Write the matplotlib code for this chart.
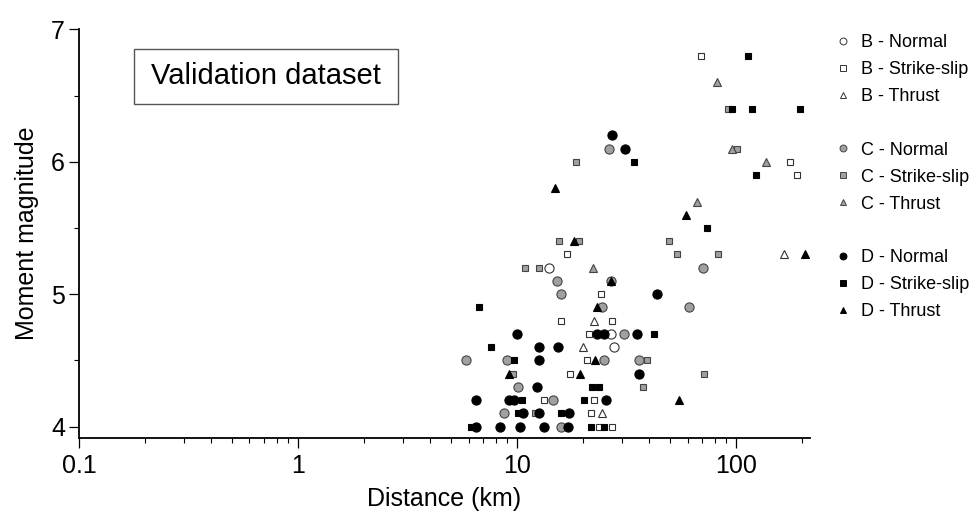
# -*- coding: utf-8 -*-
# Magnitud vs distancia - validation dataset (B, C, D)

import matplotlib
matplotlib.use('Agg')
import matplotlib.pyplot as plt
from matplotlib.lines import Line2D
from matplotlib.patches import Rectangle
from matplotlib.ticker import FixedLocator, NullFormatter

plt.rcParams['font.family'] = ['Liberation Sans', 'DejaVu Sans']

# Datos: distancia (km) y magnitud
b_normal_r = [13.9, 26.8, 27.7]
b_normal_m = [5.2, 4.7, 4.6]

b_ss_r = [24.0, 15.9, 27.1, 21.3, 20.8, 17.4, 13.3, 22.3, 21.7, 23.7, 27.1, 16.8, 69.1, 176.6, 188.8]
b_ss_m = [5.0, 4.8, 4.8, 4.7, 4.5, 4.4, 4.2, 4.2, 4.1, 4.0, 4.0, 5.3, 6.8, 6.0, 5.9]

b_thrust_r = [22.5, 19.9, 24.5, 164.7]
b_thrust_m = [4.8, 4.6, 4.1, 5.3]

c_normal_r = [15.8, 24.5, 30.7, 5.85, 8.97, 24.8, 36.0, 10.1, 14.5, 8.66, 15.8, 15.2, 26.8, 26.2, 70.8, 60.7]
c_normal_m = [5.0, 4.9, 4.7, 4.5, 4.5, 4.5, 4.5, 4.3, 4.2, 4.1, 4.0, 5.1, 5.1, 6.1, 5.2, 4.9]

c_ss_r = [18.5, 15.5, 19.1, 10.9, 12.6, 9.56, 12.0, 100.6, 49.2, 53.5, 82.9, 71.3, 37.7, 91.5, 39.1]
c_ss_m = [6.0, 5.4, 5.4, 5.2, 5.2, 4.4, 4.1, 6.1, 5.4, 5.3, 5.3, 4.4, 4.3, 6.4, 4.5]

c_thrust_r = [22.1, 82.0, 96.0, 136.4, 66.3]
c_thrust_m = [5.2, 6.6, 6.1, 6.0, 5.7]

d_normal_r = [27.2, 30.9, 10.0, 23.1, 24.8, 35.2, 12.6, 15.4, 12.6, 35.8, 12.3, 6.48, 9.19, 9.62,
              25.5, 10.6, 12.6, 17.3, 6.48, 8.36, 10.3, 13.3, 17.1, 43.4]
d_normal_m = [6.2, 6.1, 4.7, 4.7, 4.7, 4.7, 4.6, 4.6, 4.5, 4.4, 4.3, 4.2, 4.2, 4.2,
              4.2, 4.1, 4.1, 4.1, 4.0, 4.0, 4.0, 4.0, 4.0, 5.0]

d_ss_r = [34.2, 6.66, 7.59, 9.69, 21.9, 23.5, 10.5, 20.1, 10.1, 15.9, 6.15, 21.7, 25.0,
          113.6, 96.0, 118.4, 195.5, 123.5, 73.8, 42.3]
d_ss_m = [6.0, 4.9, 4.6, 4.5, 4.3, 4.3, 4.2, 4.2, 4.1, 4.1, 4.0, 4.0, 4.0,
          6.8, 6.4, 6.4, 6.4, 5.9, 5.5, 4.7]

d_thrust_r = [14.95, 18.2, 26.8, 23.1, 22.7, 9.13, 19.4, 59.0, 206.6, 55.0]
d_thrust_m = [5.8, 5.4, 5.1, 4.9, 4.5, 4.4, 4.4, 5.6, 5.3, 4.2]

x_ticks = [0.1, 1, 10, 100]
x_labels = ['0.1', '1', '10', '100']
y_ticks = [4, 5, 6, 7]

# Estilos
fill = {'B': 'white', 'C': '#a0a0a0', 'D': 'black'}
edge = {'B': '#333333', 'C': '#444444', 'D': 'black'}
shape = {'Normal': ('o', 6.6), 'Strike-slip': ('s', 5.0), 'Thrust': ('^', 6.0)}

series = [
    ('B', 'Normal', b_normal_r, b_normal_m),
    ('B', 'Strike-slip', b_ss_r, b_ss_m),
    ('B', 'Thrust', b_thrust_r, b_thrust_m),
    ('C', 'Normal', c_normal_r, c_normal_m),
    ('C', 'Strike-slip', c_ss_r, c_ss_m),
    ('C', 'Thrust', c_thrust_r, c_thrust_m),
    ('D', 'Normal', d_normal_r, d_normal_m),
    ('D', 'Strike-slip', d_ss_r, d_ss_m),
    ('D', 'Thrust', d_thrust_r, d_thrust_m),
]

fig = plt.figure(figsize=(9.73, 5.29), dpi=100)
ax = fig.add_axes([0.0812, 0.1726, 0.7513, 0.7720])

handles = []
for grupo, mec, r, m in series:
    mk, ms = shape[mec]
    ax.plot(r, m, linestyle='none', marker=mk, markersize=ms,
            markerfacecolor=fill[grupo], markeredgecolor=edge[grupo],
            markeredgewidth=0.8, clip_on=False)
    h = Line2D([], [], linestyle='none', marker=mk, markersize=ms * 0.75,
               markerfacecolor=fill[grupo], markeredgecolor=edge[grupo],
               markeredgewidth=0.7, label='%s - %s' % (grupo, mec))
    handles.append(h)
    if mec == 'Thrust' and grupo != 'D':
        handles.append(Line2D([], [], linestyle='none', label=' '))

ax.set_xscale('log')
ax.set_xlim(0.1, 217)
ax.set_ylim(3.917, 7.0)

ax.xaxis.set_major_locator(FixedLocator(x_ticks))
ax.set_xticklabels(x_labels)
minors = [k * 10.0 ** e for e in (-1, 0, 1, 2) for k in range(2, 10) if k * 10.0 ** e < 217]
ax.xaxis.set_minor_locator(FixedLocator(minors))
ax.xaxis.set_minor_formatter(NullFormatter())
ax.yaxis.set_major_locator(FixedLocator(y_ticks))
ax.yaxis.set_minor_locator(FixedLocator([4.5, 5.5, 6.5]))

for s in ('top', 'right'):
    ax.spines[s].set_visible(False)
for s in ('left', 'bottom'):
    ax.spines[s].set_linewidth(1.3)

ax.tick_params(which='major', direction='out', length=7, width=0.9, labelsize=18, pad=3)
ax.tick_params(which='minor', direction='out', length=3.5, width=0.8)
ax.tick_params(axis='x', which='major', pad=5)

ax.set_xlabel('Distance (km)', fontsize=18, labelpad=6)
ax.set_ylabel('Moment magnitude', fontsize=18, labelpad=9)

# Caja de titulo
fig.patches.append(Rectangle((134 / 973, 1 - 104 / 529), 264 / 973, 55 / 529,
                             transform=fig.transFigure, fill=False,
                             edgecolor='#555555', linewidth=1.0))
fig.text(266 / 973, 1 - 76.5 / 529, 'Validation dataset', fontsize=21,
         ha='center', va='center')

fig.legend(handles=handles, loc='upper left', bbox_to_anchor=(834 / 973, 1 - 34 / 529),
           frameon=False, fontsize=13, handlelength=1.0, handletextpad=0.5,
           labelspacing=0.55, borderpad=0, borderaxespad=0)

fig.savefig('out.png', dpi=100)
